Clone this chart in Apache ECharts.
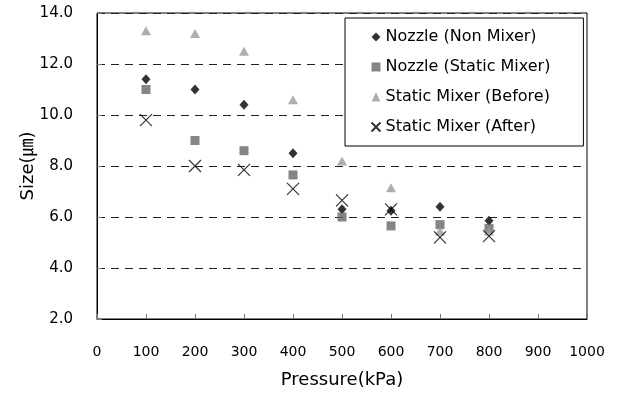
<!DOCTYPE html>
<html>
<head>
<meta charset="utf-8">
<script src="https://cdn.jsdelivr.net/npm/echarts@6/dist/echarts.min.js"></script>
<style>
  html, body { margin: 0; padding: 0; background: #fff; }
  #chart { width: 620px; height: 394px; }
</style>
</head>
<body>
<div id="chart"></div>
<script>
// Droplet size versus supply pressure for four nozzle / mixer setups
const pressure = [100, 200, 300, 400, 500, 600, 700, 800];
const nozzleNonMixer = [11.4, 11.0, 10.4, 8.5, 6.3, 6.25, 6.4, 5.85];
const nozzleStaticMixer = [11.0, 9.0, 8.6, 7.65, 6.0, 5.65, 5.7, 5.55];
const staticMixerBefore = [13.3, 13.2, 12.5, 10.6, 8.2, 7.15, 5.45, 5.45];
const staticMixerAfter = [9.8, 8.0, 7.85, 7.1, 6.65, 6.3, 5.2, 5.25];

const seriesNames = [
  'Nozzle (Non Mixer)',
  'Nozzle (Static Mixer)',
  'Static Mixer (Before)',
  'Static Mixer (After)'
];
const xTicks = { min: 0, max: 1000, interval: 100 };
const yTicks = { min: 2, max: 14, interval: 2 };

const FONT = 'DejaVu Sans, "Noto Sans CJK KR", sans-serif';
const pairs = ys => pressure.map((p, i) => [p, ys[i]]);

const chart = echarts.init(document.getElementById('chart'), null, { renderer: 'canvas' });
chart.setOption({
  animation: false,
  backgroundColor: '#fff',
  textStyle: { fontFamily: FONT, color: '#000' },
  grid: {
    left: 97, top: 13, right: 33, bottom: 73,
    show: true, borderColor: '#000', borderWidth: 1
  },
  legend: {
    orient: 'vertical',
    left: 345, top: 18,
    padding: [11, 33, 11, 24],
    itemGap: 14,
    itemWidth: 9, itemHeight: 9,
    borderColor: '#000', borderWidth: 1,
    backgroundColor: '#fff',
    textStyle: { fontFamily: FONT, fontSize: 16, color: '#000' },
    data: seriesNames
  },
  xAxis: {
    type: 'value',
    min: xTicks.min, max: xTicks.max, interval: xTicks.interval,
    name: 'Pressure(kPa)',
    nameLocation: 'middle',
    nameGap: 52,
    nameMoveOverlap: false,
    nameTextStyle: { fontFamily: FONT, fontSize: 18, color: '#000' },
    axisLine: { lineStyle: { color: '#000', width: 1 } },
    axisTick: { inside: true, length: 5, lineStyle: { color: '#777' } },
    axisLabel: {
      margin: 26, fontSize: 14, color: '#000', fontFamily: FONT,
      formatter: v => String(v)
    },
    splitLine: { show: false }
  },
  yAxis: {
    type: 'value',
    min: yTicks.min, max: yTicks.max, interval: yTicks.interval,
    name: 'Size(㎛)',
    nameLocation: 'middle',
    nameGap: 60,
    nameMoveOverlap: false,
    nameRotate: 90,
    nameTextStyle: { fontFamily: FONT, fontSize: 18, color: '#000' },
    axisLine: { show: true, lineStyle: { color: '#000', width: 1 } },
    axisTick: { show: true, inside: true, length: 5, lineStyle: { color: '#777' } },
    axisLabel: {
      margin: 24, fontSize: 15, color: '#000', fontFamily: FONT,
      formatter: v => v.toFixed(1)
    },
    splitLine: { show: true, lineStyle: { color: '#222', type: [8, 6], width: 1 } }
  },
  series: [
    {
      name: seriesNames[0], type: 'scatter', data: pairs(nozzleNonMixer),
      symbol: 'diamond', symbolSize: [9, 10],
      itemStyle: { color: '#000' }
    },
    {
      name: seriesNames[1], type: 'scatter', data: pairs(nozzleStaticMixer),
      symbol: 'rect', symbolSize: 9,
      itemStyle: { color: '#666' }
    },
    {
      name: seriesNames[2], type: 'scatter', data: pairs(staticMixerBefore),
      symbol: 'triangle', symbolSize: [10, 9],
      itemStyle: { color: '#9a9a9a' }
    },
    {
      name: seriesNames[3], type: 'scatter', data: pairs(staticMixerAfter),
      symbol: 'path://M0,0L10,10M10,0L0,10', symbolSize: 12,
      itemStyle: { color: 'none', borderColor: '#000', borderWidth: 1.2 }
    }
  ]
});
</script>
</body>
</html>
